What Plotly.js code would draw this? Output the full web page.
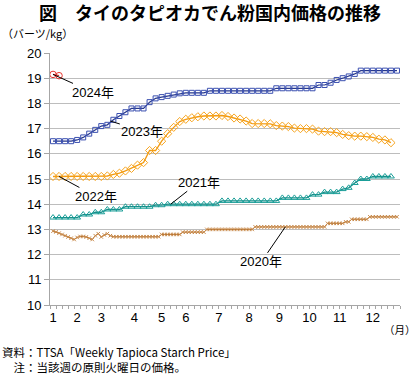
<!DOCTYPE html>
<html>
<head>
<meta charset="utf-8">
<script src="https://cdn.plot.ly/plotly-3.0.1.min.js"></script>
<style>
html,body{margin:0;padding:0;background:#fff;}
#chart{width:420px;height:375px;}
</style>
</head>
<body>
<div id="chart"></div>
<script>
// ---- data (weekly prices, Baht/kg) ----
const monthLabels = ['1','2','3','4','5','6','7','8','9','10','11','12'];

const price2020 = [ // twice-weekly observations
  12.93,12.9,12.85,12.8,12.75,12.7,12.65,12.6,12.68,12.72,
  12.72,12.7,12.65,12.6,12.75,12.83,12.7,12.78,12.83,12.75,
  12.71,12.71,12.71,12.71,12.71,12.71,12.71,12.71,12.71,12.71,
  12.71,12.71,12.71,12.71,12.71,12.71,
  12.8,12.8,12.8,12.8,12.8,12.8,12.8,
  12.89,12.89,12.89,12.89,12.89,12.89,12.89,12.89,
  13.0,13.0,13.0,13.0,13.0,13.0,13.0,13.0,13.0,13.0,13.0,13.0,13.0,13.0,13.0,13.0,
  13.1,13.1,13.1,13.1,13.1,13.1,13.1,13.1,13.1,13.1,13.1,13.1,
  13.1,13.1,13.1,13.1,13.1,13.1,13.1,13.1,13.1,13.1,13.1,13.1,
  13.24,13.24,13.24,13.24,13.24,13.24,
  13.3,13.3,
  13.4,13.4,13.4,13.4,13.4,13.4,
  13.5,13.5,13.5,13.5,13.5,13.5,13.5,13.5,13.5,13.5
];
const price2021 = [
  13.47,13.47,13.47,13.47,13.47,13.59,13.59,13.68,13.68,13.79,
  13.79,13.79,13.9,13.9,13.9,13.9,13.9,13.96,13.96,14.0,
  14.0,14.0,14.0,14.0,14.0,14.0,14.0,14.0,14.13,14.13,
  14.13,14.13,14.13,14.13,14.13,14.13,14.13,14.13,14.25,14.25,
  14.25,14.25,14.25,14.38,14.38,14.48,14.48,14.48,14.6,14.65,
  14.84,15.0,15.0,15.1,15.1,15.1,15.1
];
const price2022 = [
  15.1,15.1,15.1,15.1,15.1,15.1,15.1,15.1,15.1,15.12,
  15.18,15.23,15.32,15.42,15.55,15.65,16.13,16.13,16.5,16.8,
  17.05,17.28,17.37,17.43,17.47,17.5,17.5,17.5,17.52,17.48,
  17.42,17.38,17.3,17.2,17.2,17.2,17.19,17.12,17.1,17.08,
  17.02,17.0,17.0,16.98,16.9,16.88,16.88,16.84,16.77,16.72,
  16.7,16.7,16.68,16.65,16.58,16.55,16.44
];
const price2023 = [
  16.5,16.5,16.5,16.5,16.55,16.65,16.8,16.95,17.1,17.15,
  17.35,17.5,17.65,17.8,17.8,17.8,18.05,18.2,18.25,18.3,
  18.35,18.4,18.42,18.42,18.42,18.42,18.5,18.5,18.5,18.5,
  18.5,18.5,18.5,18.5,18.5,18.5,18.5,18.6,18.6,18.6,
  18.6,18.6,18.6,18.6,18.73,18.73,18.82,18.93,19.0,19.07,
  19.17,19.3,19.3,19.3,19.3,19.3,19.3,19.3
];
const price2024 = [19.15, 19.1];

const seriesNames = ['2020年','2021年','2022年','2023年','2024年'];

// ---- helpers ----
function weekIndex(arr, perWeek){ return arr.map((_, i) => i / perWeek); }

const FONT = 'Liberation Sans, Arial, "Noto Sans CJK JP", sans-serif';
const JFONT = '"Noto Sans CJK JP", sans-serif';

const traces = [
  {x: weekIndex(price2020, 2), y: price2020, name: seriesNames[0], mode: 'lines+markers',
   line: {color: '#b36f2c', width: 1},
   marker: {symbol: 'x-thin-open', size: 3.5, color: '#c98a4a', line: {width: 1, color: '#c98a4a'}}},
  {x: weekIndex(price2021, 1), y: price2021, name: seriesNames[1], mode: 'lines+markers',
   line: {color: '#178e89', width: 1.3},
   marker: {symbol: 'triangle-up-open', size: 6, color: '#1a9e98', line: {width: 1, color: '#1a9e98'}}},
  {x: weekIndex(price2022, 1), y: price2022, name: seriesNames[2], mode: 'lines+markers',
   line: {color: '#f29a10', width: 1.3},
   marker: {symbol: 'diamond-open', size: 6.3, color: '#f7a520', line: {width: 1, color: '#f7a520'}}},
  {x: weekIndex(price2023, 1), y: price2023, name: seriesNames[3], mode: 'lines+markers',
   line: {color: '#26378c', width: 1.2},
   marker: {symbol: 'square-open', size: 5, color: '#3b50b0', line: {width: 1, color: '#3b50b0'}}},
  {x: weekIndex(price2024, 1), y: price2024, name: seriesNames[4], mode: 'lines+markers',
   line: {color: '#e0302a', width: 1.2},
   marker: {symbol: 'circle-open', size: 6.5, color: '#e8352e', line: {width: 1, color: '#e8352e'}}}
];

function leader(xv, yv, label, ax, ay){
  return {x: xv, y: yv, xref: 'x', yref: 'y', text: label, showarrow: true,
    arrowhead: 0, arrowwidth: 1, arrowcolor: '#000', ax: ax, ay: ay, standoff: 0,
    font: {family: FONT, size: 13, color: '#000'}};
}

const layout = {
  width: 420, height: 375,
  margin: {l: 50, r: 20, t: 53.3, b: 69.7, pad: 0},
  paper_bgcolor: '#fff', plot_bgcolor: '#fff',
  showlegend: false,
  title: {text: '<b>図　タイのタピオカでん粉国内価格の推移</b>',
          font: {family: JFONT, size: 18, color: '#000'},
          x: 0.5, xanchor: 'center', y: 1 - 14/375, yanchor: 'middle', xref: 'container', yref: 'container'},
  xaxis: {
    range: [-0.5, 57.5], tickmode: 'array',
    tickvals: [0, 4, 8, 13.5, 18, 22, 27.5, 32.5, 37.5, 42.5, 47.5, 53],
    ticktext: monthLabels, ticks: '', showgrid: false, zeroline: false,
    showline: true, linecolor: '#a6a6a6', linewidth: 1,
    tickfont: {family: FONT, size: 13, color: '#000'},
    minor: {tickmode: 'linear', tick0: -0.5, dtick: 1, ticks: 'outside', ticklen: 3,
            tickcolor: '#a6a6a6', tickwidth: 1, showgrid: false},
    fixedrange: true
  },
  yaxis: {
    range: [10, 20], dtick: 1, tick0: 10, ticks: 'outside', ticklen: 5,
    tickcolor: '#a6a6a6', showline: true, linecolor: '#a6a6a6', linewidth: 1,
    gridcolor: '#bdbdbd', gridwidth: 1, zeroline: false,
    tickfont: {family: FONT, size: 13, color: '#000'}, fixedrange: true
  },
  annotations: [
    {xref: 'paper', yref: 'paper', x: -50/350, y: (305.3 - 33)/252, xanchor: 'left', yanchor: 'middle',
     text: '（バーツ/kg）', showarrow: false, font: {family: JFONT, size: 11, color: '#000'}},
    {xref: 'paper', yref: 'paper', x: (418 - 50)/350, y: (305.3 - 330)/252, xanchor: 'right', yanchor: 'middle',
     text: '（月）', showarrow: false, font: {family: JFONT, size: 10.5, color: '#000'}},
    {xref: 'paper', yref: 'paper', x: -50/350, y: (305.3 - 352)/252, xanchor: 'left', yanchor: 'middle',
     text: '資料：TTSA「Weekly Tapioca Starch Price」', showarrow: false, font: {family: JFONT, size: 11.5, color: '#000'}},
    {xref: 'paper', yref: 'paper', x: -50/350, y: (305.3 - 367)/252, xanchor: 'left', yanchor: 'middle',
     text: '　注：当該週の原則火曜日の価格。', showarrow: false, font: {family: JFONT, size: 11.5, color: '#000'}},
    leader(0, 19.15, '2024年', 40, 18),
    leader(9.5, 17.3, '2023年', 32, 10),
    leader(1, 15.1, '2022年', 37, 20),
    leader(19.5, 14.0, '2021年', 28, -22),
    leader(38.5, 13.1, '2020年', -24, 35)
  ]
};

Plotly.newPlot('chart', traces, layout, {displayModeBar: false, staticPlot: true});
</script>
</body>
</html>
